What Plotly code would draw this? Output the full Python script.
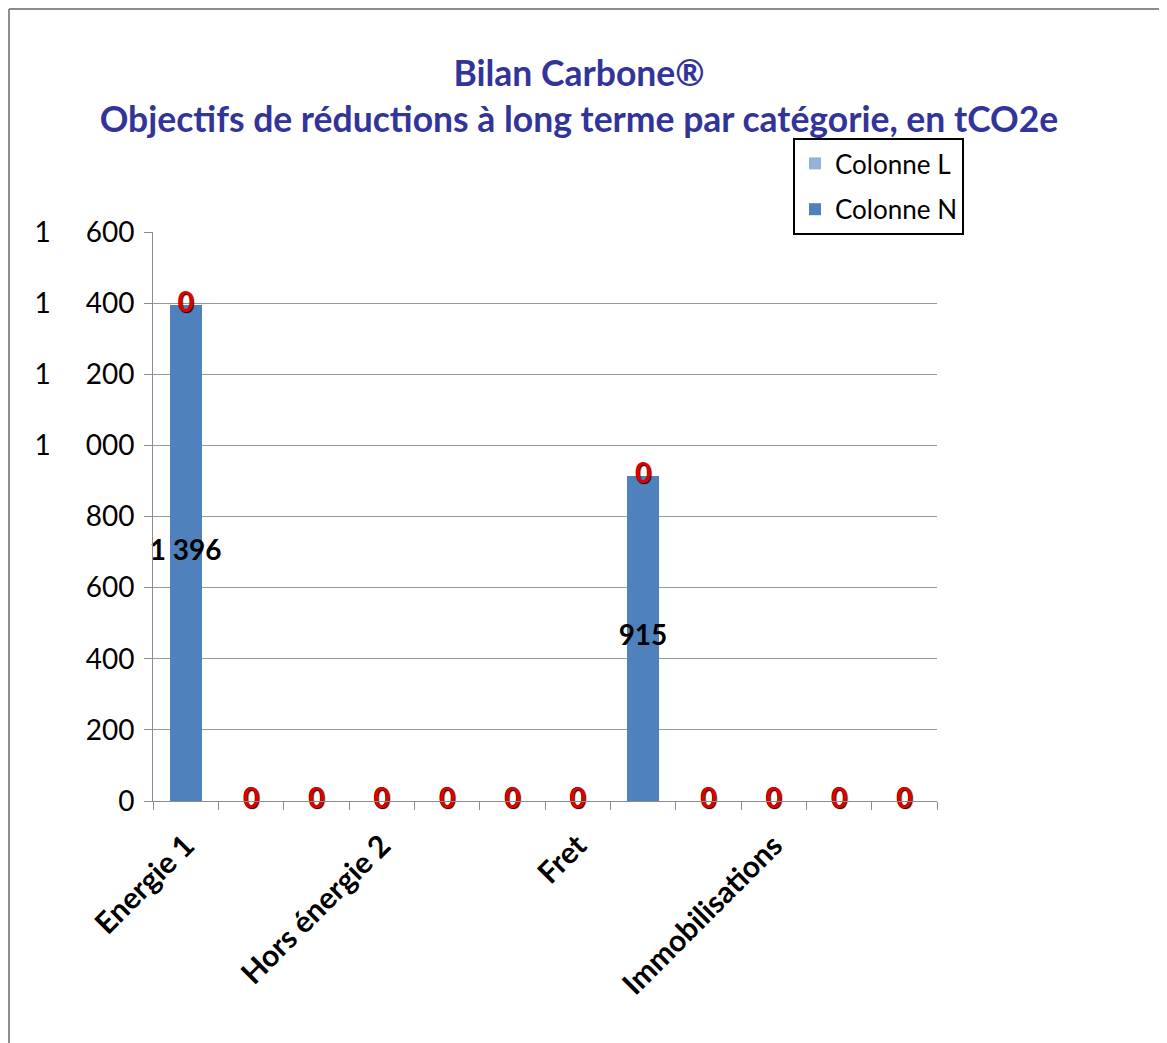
import plotly.graph_objects as go

# ---- data ----
category_labels = ["Energie 1", "", "", "Hors énergie 2", "", "", "Fret", "", "", "Immobilisations", "", ""]
colonne_n = [1396, 0, 0, 0, 0, 0, 0, 915, 0, 0, 0, 0]
colonne_l = [0, 0, 0, 0, 0, 0, 0, 0, 0, 0, 0, 0]
y_ticks = [0, 200, 400, 600, 800, 1000, 1200, 1400, 1600]

x = list(range(len(category_labels)))
tick_vals = [i for i, c in enumerate(category_labels) if c]
tick_text = [c for c in category_labels if c]

FONT = "Lato"
C_N = "#4F81BD"
C_L = "#95B3D7"


def fmt(v, sep=" "):
    return f"{v:,}".replace(",", sep)


y_tick_text = [fmt(v, "\u2003\u2002") for v in y_ticks]

fig = go.Figure()
fig.add_trace(go.Bar(x=x, y=colonne_n, name="Colonne N", marker_color=C_N, legendgroup="n",
                     legendrank=2, marker_line_width=0, width=0.49, hoverinfo="skip"))
fig.add_trace(go.Bar(x=x, y=colonne_l, name="Colonne L", marker_color=C_L, legendgroup="l",
                     legendrank=1, marker_line_width=0, width=0.49, hoverinfo="skip"))

# labels of Colonne N (centred in bar)
fig.add_trace(go.Scatter(x=x, y=[v / 2 for v in colonne_n], mode="text", cliponaxis=False,
                         text=[fmt(v) for v in colonne_n], showlegend=False,
                         textposition="middle center", hoverinfo="skip",
                         textfont=dict(family=FONT, size=28, color="black", weight="bold")))
# labels of Colonne L (top of stack)
fig.add_trace(go.Scatter(x=x, y=[n + l for n, l in zip(colonne_n, colonne_l)], mode="text",
                         cliponaxis=False,
                         text=[fmt(v) for v in colonne_l], showlegend=False,
                         textposition="middle center", hoverinfo="skip",
                         textfont=dict(family=FONT, size=28, color="#E00000", weight="bold",
                                       shadow="1px 1px 1px #000")))

OFF = 8  # page body margin
W, H = 1167 - OFF, 1043 - OFF
L, R, T, B = 153 - OFF, 937 - OFF, 232 - OFF, 801 - OFF
PW, PH = R - L, B - T


def px(xp):
    return (xp - OFF - L) / PW


def py(yp):
    return (B - (yp - OFF)) / PH


fig.update_layout(
    width=W, height=H,
    margin=dict(l=L, r=W - R, t=T, b=H - B, pad=0),
    paper_bgcolor="white", plot_bgcolor="white",
    barmode="stack",
    font=dict(family=FONT, size=26, color="black"),
    title=dict(text="Bilan Carbone®<br>Objectifs de réductions à long terme par catégorie, en tCO2e",
               x=(579 - OFF) / W, xanchor="center", xref="container",
               y=1 - 77.5 / H, yanchor="middle",
               font=dict(family=FONT, size=35.5, color="#33349A", weight="bold")),
    legend=dict(x=px(793), y=py(138), xanchor="left", yanchor="top",
                bordercolor="black", borderwidth=2, bgcolor="white", tracegroupgap=9,
                font=dict(family=FONT, size=26, color="black"), traceorder="grouped"),
    showlegend=True,
)
fig.update_xaxes(range=[-0.5, len(x) - 0.5], tickmode="array", tickvals=tick_vals, ticktext=tick_text,
                 tickangle=-45, ticks="", showgrid=False, zeroline=False, ticklabelstandoff=14,
                 showline=True, linecolor="#8C8C8C", linewidth=1,
                 tickfont=dict(family=FONT, size=30, color="black", weight="bold"),
                 minor=dict(tickmode="array", tickvals=[i - 0.5 for i in range(len(x) + 1)],
                            ticks="outside", ticklen=8, tickcolor="#8C8C8C", tickwidth=1, showgrid=False))
fig.update_yaxes(range=[0, 1600], tickmode="array", tickvals=y_ticks, ticktext=y_tick_text,
                 ticks="outside", ticklen=8, tickcolor="#8C8C8C", tickwidth=1, ticklabelstandoff=4,
                 showgrid=True, gridcolor="#999999", gridwidth=1, zeroline=False,
                 showline=True, linecolor="#8C8C8C", linewidth=1,
                 tickfont=dict(family=FONT, size=28, color="black"))

# outer frame (top and left edges visible)
fig.add_shape(type="line", xref="paper", yref="paper",
              x0=px(OFF + 1), x1=px(1167 + 10), y0=py(OFF + 1), y1=py(OFF + 1),
              line=dict(color="#8C8C8C", width=2))
fig.add_shape(type="line", xref="paper", yref="paper",
              x0=px(OFF + 1), x1=px(OFF + 1), y0=py(OFF + 1), y1=py(1043 + 10),
              line=dict(color="#8C8C8C", width=2))

fig.write_html("out.html")
